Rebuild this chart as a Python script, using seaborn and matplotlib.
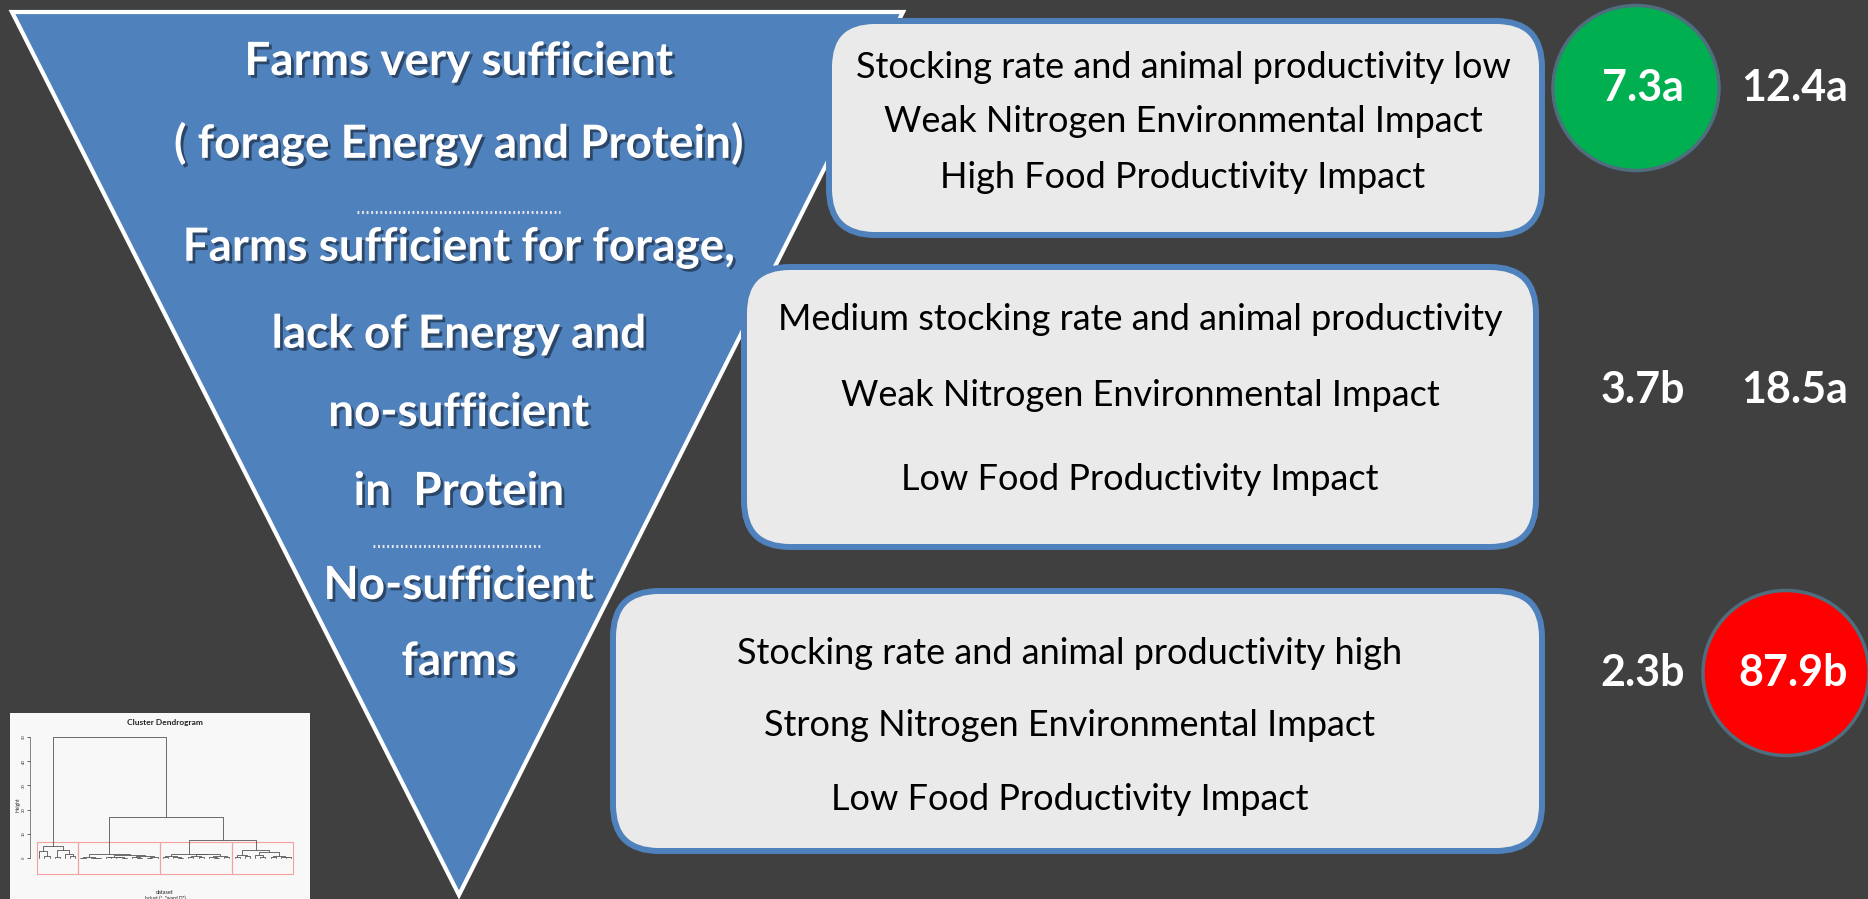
import numpy as np
import matplotlib.pyplot as plt
import matplotlib.patheffects as pe
from matplotlib.patches import Polygon, FancyBboxPatch, Ellipse, Rectangle
import seaborn as sns

sns.set_theme(style="white")
plt.rcParams['font.family'] = ['Lato', 'DejaVu Sans']

W, H = 1868, 899
BG = '#404040'
BLUE = '#4F81BD'

# --- content ---
level_text = ['Farms very sufficient', '( forage Energy and Protein)',
              'Farms sufficient for forage,', 'lack of Energy and',
              'no-sufficient', 'in  Protein', 'No-sufficient', 'farms']

box_lines = [
    ['Stocking rate and animal productivity low',
     'Weak Nitrogen Environmental Impact',
     'High Food Productivity Impact'],
    ['Medium stocking rate and animal productivity',
     'Weak Nitrogen Environmental Impact',
     'Low Food Productivity Impact'],
    ['Stocking rate and animal productivity high',
     'Strong Nitrogen Environmental Impact',
     'Low Food Productivity Impact'],
]

col1_values = ['7.3a', '3.7b', '2.3b']
col2_values = ['12.4a', '18.5a', '87.9b']
col1_circle = ['#00B050', None, None]
col2_circle = [None, None, '#FF0000']

# dendrogram (node = (height, left, right), leaf = 0)
group1_tree = (5.1, (2.8, 0, (0.7, 0, 0)), (3.2, (0.4, 0, 0), (1.8, 0, (0.7, 0, 0))))
group2_tree = (1.8, (0.3, (0.1, 0, 0), (0.2, 0, (0.1, 0, 0))),
               (1.1, (0.6, (0.3, 0, 0), (0.4, 0, (0.2, 0, 0))),
                (0.8, (0.5, 0, (0.2, 0, 0)), (0.4, (0.2, 0, 0), 0))))
group3_tree = (1.6, (0.9, (0.3, 0, 0), (0.5, 0, (0.2, 0, 0))),
               (1.5, (0.8, (0.3, 0, 0), (0.4, 0, 0)),
                (1.0, (0.5, 0, (0.2, 0, 0)), (0.3, 0, 0))))
group4_tree = (3.2, (1.4, (0.6, 0, 0), (0.8, 0, 0)),
               (2.3, (1.2, 0, (0.5, 0, 0)), (1.0, (0.4, 0, 0), (0.6, 0, (0.3, 0, 0)))))
top_merges = [50.0, 17.0, 7.5]
height_ticks = [0, 10, 20, 30, 40, 50]

# --- layout (pixel coords) ---
level_y = [62, 144, 248, 335, 413, 492, 586, 662]
box_rects = [(826, 18, 1545, 238), (741, 264, 1539, 550), (610, 588, 1545, 854)]
box_cx = [1183, 1140, 1070]
box_line_y = [[67, 121, 177], [319, 395, 479], [653, 725, 799]]
row_y = [88, 390, 673]
col1_x = [1643, 1643, 1643]
col2_x = [1795, 1795, 1793]

fig = plt.figure(figsize=(W / 100, H / 100), dpi=100)
fig.patch.set_facecolor(BG)
ax = fig.add_axes([0, 0, 1, 1])
ax.set_xlim(0, W)
ax.set_ylim(H, 0)
ax.axis('off')

# inverted pyramid
tri = Polygon([(12, 12), (903, 12), (459, 895)], closed=True,
              facecolor=BLUE, edgecolor='white', lw=3, zorder=1)
ax.add_patch(tri)
shadow = [pe.SimplePatchShadow(offset=(2, -2), shadow_rgbFace='black', alpha=0.45), pe.Normal()]
for txt, y in zip(level_text, level_y):
    ax.text(459, y, txt, ha='center', va='center', color='white', fontsize=33,
            fontweight='bold', path_effects=shadow, zorder=2)
for y, x0, x1 in [(212, 357, 560), (546, 373, 542)]:
    ax.plot([x0, x1], [y, y], color='#e8e8e8', lw=2.2, ls=(0, (0.6, 0.9)), zorder=2)

# rounded boxes
for (x0, y0, x1, y1), cx, lines, ly in zip(box_rects, box_cx, box_lines, box_line_y):
    box = FancyBboxPatch((x0 + 3, y0 + 3), x1 - x0 - 6, y1 - y0 - 6,
                         boxstyle='round,pad=0,rounding_size=46',
                         facecolor='#EAEAEA', edgecolor=BLUE, lw=4.3, zorder=3)
    ax.add_patch(box)
    for t, y in zip(lines, ly):
        ax.text(cx, y, t, ha='center', va='center', color='black', fontsize=26, zorder=4)

# values and circles
circle_size = (166, 165)
for vals, xs, circ in [(col1_values, col1_x, col1_circle), (col2_values, col2_x, col2_circle)]:
    for v, x, y, c in zip(vals, xs, row_y, circ):
        if c is not None:
            ax.add_patch(Ellipse((x - 7, y), circle_size[0], circle_size[1],
                                 facecolor=c, edgecolor='#4E6E7E', lw=2.5, zorder=3))
        ax.text(x, y, v, ha='center', va='center', color='white', fontsize=31,
                fontweight='bold', zorder=4)

# dendrogram thumbnail
thumb = fig.add_axes([10 / W, 0, 300 / W, (H - 713) / H])
thumb.set_facecolor('#F8F8F8')
thumb.set_xticks([])
thumb.set_yticks([])
for s in thumb.spines.values():
    s.set_visible(False)

dax = fig.add_axes([30.3 / W, 0.024, 266 / W, 0.1615])
dax.set_facecolor('none')


def draw_tree(node, axis, leaves):
    if not isinstance(node, tuple):
        leaves.append(len(leaves))
        return leaves[-1], 0.0
    h, left, right = node
    xl, hl = draw_tree(left, axis, leaves)
    xr, hr = draw_tree(right, axis, leaves)
    if axis is not None:
        axis.plot([xl, xl, xr, xr], [hl, h, h, hr], color='#555555', lw=0.6)
    return (xl + xr) / 2, h


root = (top_merges[0], group1_tree,
        (top_merges[1], group2_tree, (top_merges[2], group3_tree, group4_tree)))
leaves = []
draw_tree(root, dax, leaves)

# red boxes around the four clusters
start = 0
for g in [group1_tree, group2_tree, group3_tree, group4_tree]:
    n = []
    draw_tree(g, None, n)
    dax.add_patch(Rectangle((start - 0.45, -6.5), len(n) - 0.1, 13, fill=False,
                            edgecolor='#F4A0A0', lw=0.8))
    start += len(n)

dax.set_xlim(-1.75, 50)
dax.set_ylim(-8, 52)
dax.set_xticks([])
dax.set_yticks(height_ticks)
dax.set_yticklabels([str(t) for t in height_ticks], rotation=90, fontsize=3, va='center')
dax.tick_params(axis='y', length=2, width=0.5, pad=1, left=True)
sns.despine(ax=dax, bottom=True)
dax.spines['left'].set_bounds(0, 50)
dax.spines['left'].set_linewidth(0.5)
dax.spines['left'].set_color('#555555')
dax.set_ylabel('Height', fontsize=3.5, labelpad=1)

fig.text(165 / W, 1 - 723 / H, 'Cluster Dendrogram', ha='center', va='center',
         fontsize=6, fontweight='bold', color='#222222')
fig.text(165 / W, 1 - 892 / H, 'dataset', ha='center', va='center', fontsize=4, color='#222222')
fig.text(165 / W, 1 - 898 / H, 'hclust (*, "ward.D")', ha='center', va='center', fontsize=3.5,
         color='#222222')

fig.savefig('out.png', dpi=100, facecolor=BG)
